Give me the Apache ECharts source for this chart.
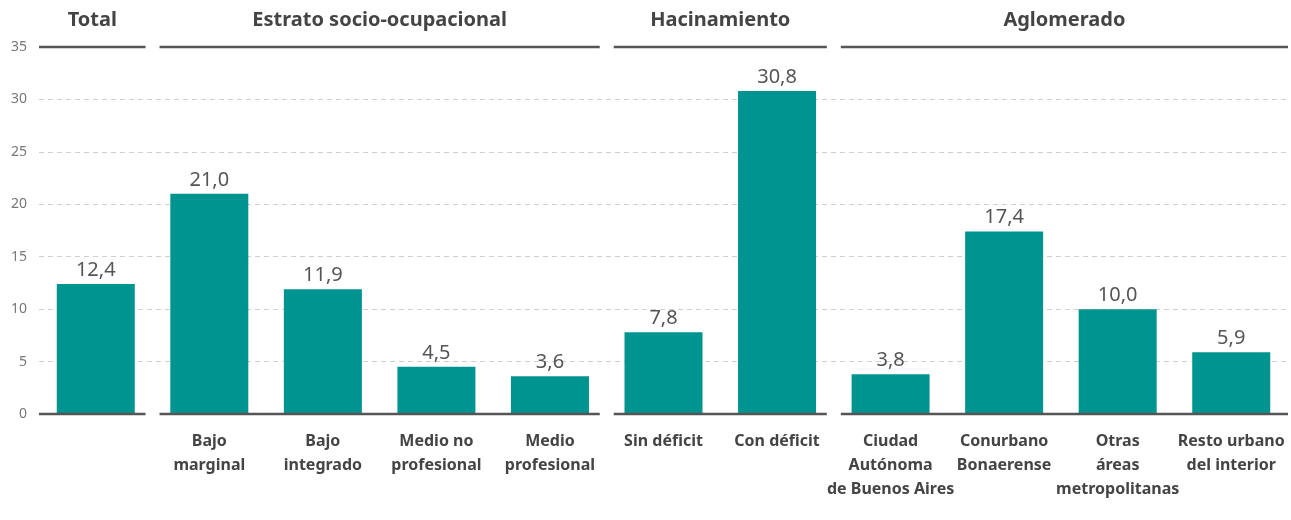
<!DOCTYPE html>
<html><head><meta charset="utf-8">
<script src="https://cdn.jsdelivr.net/npm/echarts@6/dist/echarts.min.js"></script>
<style>html,body{margin:0;padding:0;background:#fff}#c{width:1291px;height:520px}</style>
</head><body><div id="c"></div>
<script>
const categories = ['', 'Bajo\nmarginal', 'Bajo\nintegrado', 'Medio no\nprofesional', 'Medio\nprofesional',
  'Sin déficit', 'Con déficit', 'Ciudad\nAutónoma\nde Buenos Aires', 'Conurbano\nBonaerense',
  'Otras\náreas\nmetropolitanas', 'Resto urbano\ndel interior'];
const values = [12.4, 21.0, 11.9, 4.5, 3.6, 7.8, 30.8, 3.8, 17.4, 10.0, 5.9];
const groupNames = ['Total', 'Estrato socio-ocupacional', 'Hacinamiento', 'Aglomerado'];
const groupFirst = [0, 1, 5, 7];
const groupLast = [0, 4, 6, 10];
const gridValues = [5, 10, 15, 20, 25, 30];
const yMin = 0, yMax = 35, yStep = 5;

const FONT = '"Noto Sans", Lato, sans-serif';
const chart = echarts.init(document.getElementById('c'), null, {renderer: 'canvas'});
const fmt = v => v.toFixed(1).replace('.', ',');

chart.setOption({
  animation: false,
  grid: {left: 39, right: 3, top: 47, bottom: 106, containLabel: false},
  xAxis: {
    type: 'category', data: categories,
    axisLine: {show: false}, axisTick: {show: false},
    axisLabel: {interval: 0, margin: 15, color: '#444', fontFamily: FONT, fontWeight: 'bold', fontSize: 16, lineHeight: 24}
  },
  yAxis: {
    type: 'value', min: yMin, max: yMax, interval: yStep,
    splitLine: {show: false}, axisLine: {show: false}, axisTick: {show: false},
    axisLabel: {margin: 12, color: '#777', fontFamily: FONT, fontSize: 14}
  },
  series: [{
    type: 'bar', data: values, barWidth: 78,
    itemStyle: {color: '#009490'},
    label: {show: true, position: 'top', distance: 4, color: '#555', fontFamily: FONT, fontSize: 20, formatter: p => fmt(p.value)},
    markLine: {
      silent: true, symbol: 'none', label: {show: false},
      lineStyle: {type: [5, 4], color: '#cfcfcf', width: 1},
      data: gridValues.map(v => ({yAxis: v})),
      z: 0
    }
  }]
});

function drawGroups() {
  const c0 = chart.convertToPixel({xAxisIndex: 0}, 0);
  const c1 = chart.convertToPixel({xAxisIndex: 0}, 1);
  const bw = c1 - c0;
  const yBase = chart.convertToPixel({yAxisIndex: 0}, yMin);
  const yTop = chart.convertToPixel({yAxisIndex: 0}, yMax);
  const gap = 7;
  const els = [];
  groupNames.forEach((name, i) => {
    let x1 = chart.convertToPixel({xAxisIndex: 0}, groupFirst[i]) - bw / 2;
    let x2 = chart.convertToPixel({xAxisIndex: 0}, groupLast[i]) + bw / 2;
    if (i > 0) x1 += gap;
    if (i < groupNames.length - 1) x2 -= gap;
    else x2 = Math.min(x2, 1288);
    [yTop, yBase].forEach(y => {
      els.push({type: 'line', shape: {x1, y1: y, x2, y2: y}, style: {stroke: '#555', lineWidth: 2.5}, z: 10});
    });
    els.push({type: 'text', x: (x1 + x2) / 2, y: yTop - 27,
      style: {text: name, fill: '#444', font: 'bold 20px ' + FONT, align: 'center', verticalAlign: 'middle'}, z: 10});
  });
  chart.setOption({graphic: els});
}
drawGroups();
</script></body></html>
